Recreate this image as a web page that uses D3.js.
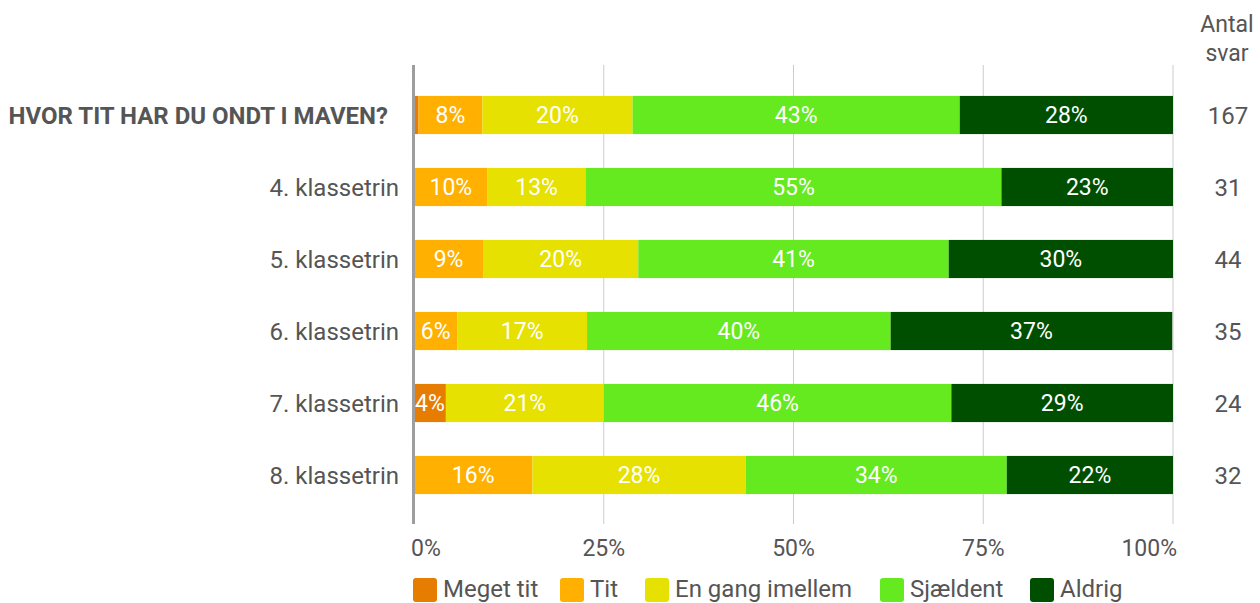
<!DOCTYPE html>
<html><head><meta charset="utf-8">
<script src="https://cdn.jsdelivr.net/npm/d3@7"></script>
<style>body{margin:0;background:#fff;font-family:Roboto,"Noto Sans",sans-serif}</style>
</head><body><svg id="c" width="1260" height="603"></svg>
<script>
const categories = ["HVOR TIT HAR DU ONDT I MAVEN?","4. klassetrin","5. klassetrin","6. klassetrin","7. klassetrin","8. klassetrin"];
const seriesNames = ["Meget tit","Tit","En gang imellem","Sjældent","Aldrig"];
const megetTit = [0.6, 0, 0, 0, 4.2, 0];
const tit = [8.4, 9.7, 9.1, 5.7, 0, 15.6];
const enGang = [19.8, 12.9, 20.45, 17.1, 20.8, 28.1];
const sjaeldent = [43.1, 54.8, 40.9, 40.0, 45.8, 34.4];
const aldrig = [28.1, 22.6, 29.55, 37.1, 29.2, 21.9];
const antalSvar = [167, 31, 44, 35, 24, 32];
const xTicks = [0, 25, 50, 75, 100];
const colors = ["#e67c00","#ffb000","#e6e100","#65e91f","#004f00"];

const series = [megetTit, tit, enGang, sjaeldent, aldrig];
const svg = d3.select("#c");
const x = d3.scaleLinear().domain([0,100]).range([414,1173]);
const y = d3.scaleBand().domain(categories).range([79,511]).paddingInner(0.47).paddingOuter(0.235);

// gridlines
svg.append("g").selectAll("line").data(xTicks.slice(1)).join("line")
  .attr("x1",d=>x(d)).attr("x2",d=>x(d)).attr("y1",65).attr("y2",524)
  .attr("stroke","#cccccc").attr("stroke-width",1);

const data = categories.map((c,i)=>{
  let acc=0; return series.map((s,k)=>{const o={cat:c,k,v:s[i],x0:acc,x1:acc+s[i]}; acc+=s[i]; return o;});
}).flat();

svg.append("g").selectAll("rect").data(data.filter(d=>d.v>0)).join("rect")
  .attr("x",d=>x(d.x0)).attr("width",d=>x(d.x1)-x(d.x0))
  .attr("y",d=>y(d.cat)).attr("height",y.bandwidth())
  .attr("fill",d=>colors[d.k]);

svg.append("g").selectAll("text").data(data.filter(d=>d.v>=2)).join("text")
  .attr("x",d=>(x(d.x0)+x(d.x1))/2).attr("y",d=>y(d.cat)+y.bandwidth()/2)
  .attr("dy","0.36em").attr("text-anchor","middle").attr("fill","#fff")
  .attr("font-size",23).text(d=>Math.round(d.v)+"%");

// zero axis line
svg.append("line").attr("x1",x(0)-0.5).attr("x2",x(0)-0.5).attr("y1",65).attr("y2",524)
  .attr("stroke","#9e9e9e").attr("stroke-width",3);

// x tick labels
svg.append("g").selectAll("text").data(xTicks).join("text")
  .attr("x",(d,i)=>i===0?x(d)-3:(i===xTicks.length-1?x(d)+4:x(d))).attr("y",556)
  .attr("text-anchor",(d,i)=>i===0?"start":(i===xTicks.length-1?"end":"middle"))
  .attr("fill","#555").attr("font-size",23).text(d=>d+"%");

// category labels
svg.append("g").selectAll("text").data(categories).join("text")
  .attr("x",(d,i)=>i===0?388:399).attr("y",d=>y(d)+y.bandwidth()/2).attr("dy","0.36em")
  .attr("text-anchor","end").attr("fill","#555").attr("font-size",24)
  .attr("font-weight",(d,i)=>i===0?"bold":"normal").text(d=>d);

// antal svar
svg.append("text").attr("x",1227).attr("y",32).attr("text-anchor","middle").attr("fill","#555").attr("font-size",23).text("Antal");
svg.append("text").attr("x",1227).attr("y",61).attr("text-anchor","middle").attr("fill","#555").attr("font-size",23).text("svar");
svg.append("g").selectAll("text").data(categories).join("text")
  .attr("x",1228).attr("y",d=>y(d)+y.bandwidth()/2).attr("dy","0.36em")
  .attr("text-anchor","middle").attr("fill","#555").attr("font-size",24)
  .text((d,i)=>antalSvar[i]);

// legend
const legX = [413, 560, 645, 880, 1030];
const lg = svg.append("g").selectAll("g").data(seriesNames).join("g")
  .attr("transform",(d,i)=>`translate(${legX[i]},578)`);
lg.append("rect").attr("width",24).attr("height",24).attr("rx",3).attr("fill",(d,i)=>colors[i]);
lg.append("text").attr("x",30).attr("y",19).attr("fill","#555").attr("font-size",24).text(d=>d);
</script></body></html>
